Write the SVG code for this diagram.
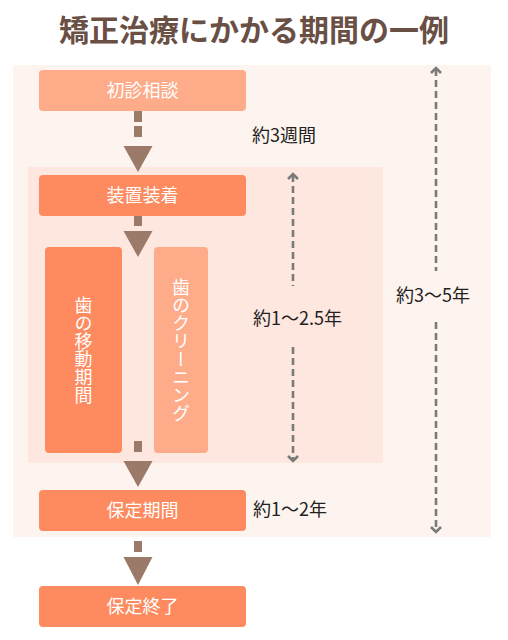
<svg xmlns="http://www.w3.org/2000/svg" width="508" height="640" viewBox="0 0 508 640">
<style>
.t{font-family:"Noto Sans CJK JP","Noto Sans",sans-serif}
.title{font-size:30px;font-weight:bold;fill:#6a4f45}
.bt{font-size:18px;fill:#ffffff;text-anchor:middle}
.vt{font-size:18px;fill:#ffffff;text-anchor:middle;writing-mode:vertical-rl}
.lb{font-size:18px;fill:#222222}
.dark{fill:#fd8b5f}
.light{fill:#fdab89}
.br{fill:#9b7a6a}
.dl{stroke:#7a7a7a;stroke-width:2.6;stroke-dasharray:7 4;fill:none}
.ch{stroke:#7a7a7a;stroke-width:2.6;fill:none}
</style>
<rect width="508" height="640" fill="#ffffff"/>
<text class="t title" x="254" y="41" text-anchor="middle">矯正治療にかかる期間の一例</text>
<rect x="13" y="65" width="478" height="472" fill="#fef4ef"/>
<rect x="28" y="167" width="355" height="296" fill="#fee7df"/>
<g id="n1"><rect class="light" x="39" y="70" width="207" height="41" rx="4"/><text class="t bt" x="142.5" y="97">初診相談</text></g>
<g id="n2"><rect class="dark" x="39" y="175" width="207" height="41" rx="4"/><text class="t bt" x="142.5" y="202">装置装着</text></g>
<g id="n3"><rect class="dark" x="45" y="247" width="77" height="206" rx="4"/><text class="t vt" x="83.5" y="350">歯の移動期間</text></g>
<g id="n4"><rect class="light" x="154" y="247" width="54" height="206" rx="4"/><text class="t vt" x="181" y="350">歯のクリーニング</text></g>
<g id="n5"><rect class="dark" x="39" y="490" width="207" height="41" rx="4"/><text class="t bt" x="142.5" y="517">保定期間</text></g>
<g id="n6"><rect class="dark" x="39" y="586" width="207" height="41" rx="4"/><text class="t bt" x="142.5" y="613">保定終了</text></g>
<g id="connectors">
<g class="br">
<rect x="134" y="111" width="8" height="11"/><rect x="134" y="126" width="8" height="11"/><polygon points="123.5,146 152.5,146 138,172"/>
<rect x="134" y="216" width="8" height="10"/><polygon points="123.5,231 152.5,231 138,257"/>
<rect x="134" y="441" width="8" height="11"/><polygon points="123.5,461 152.5,461 138,487"/>
<rect x="134" y="541" width="8" height="11"/><polygon points="123.5,557 152.5,557 138,585"/>
</g>
<line class="dl" x1="293" y1="175" x2="293" y2="286"/>
<line class="dl" x1="293" y1="347" x2="293" y2="460"/>
<polyline class="ch" points="288,179 293,174 298,179"/>
<polyline class="ch" points="288,456 293,461 298,456"/>
<line class="dl" x1="436" y1="69" x2="436" y2="271"/>
<line class="dl" x1="436" y1="322" x2="436" y2="531"/>
<polyline class="ch" points="431,73 436,68 441,73"/>
<polyline class="ch" points="431,527 436,532 441,527"/>
</g>
<text class="t lb" x="252" y="142">約3週間</text>
<text class="t lb" x="253" y="325">約1〜2.5年</text>
<text class="t lb" x="396" y="302">約3〜5年</text>
<text class="t lb" x="253" y="516">約1〜2年</text>
</svg>
